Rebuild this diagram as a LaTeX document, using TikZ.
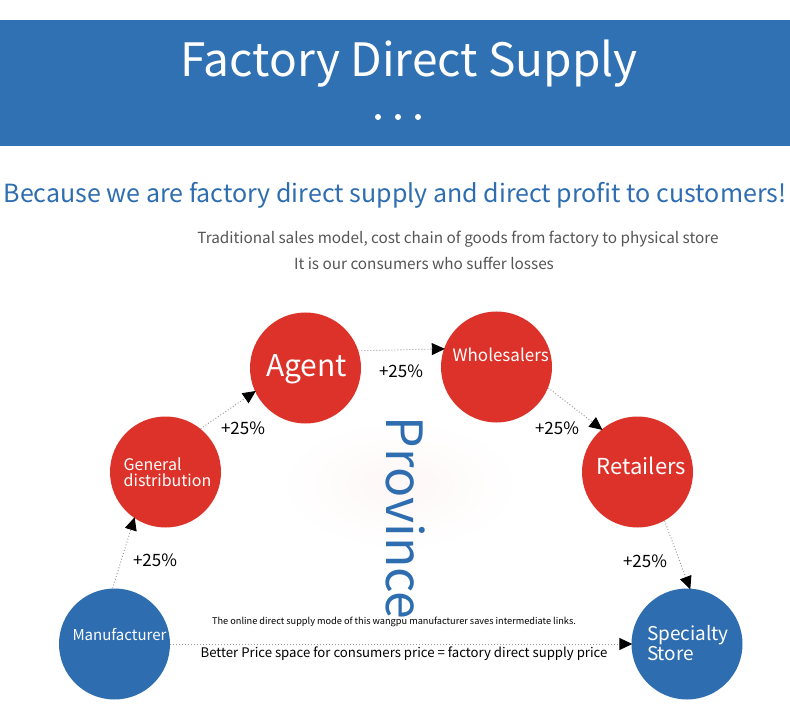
\documentclass[tikz,border=0pt]{standalone}
\usepackage{fontspec}
\setmainfont{Noto Sans CJK SC}
\usetikzlibrary{arrows.meta}
\providecommand{\Band}{2F71B2}
\providecommand{\Hot}{DC3229}
\providecommand{\Cool}{2E6DB0}
\providecommand{\Grey}{555555}
\newcommand{\Disc}{111pt}
\definecolor{band}{HTML}{\Band}
\definecolor{hot}{HTML}{\Hot}
\definecolor{cool}{HTML}{\Cool}
\definecolor{grey}{HTML}{\Grey}

\tikzset{
  disc/.style={circle, minimum size=\Disc, inner sep=0pt},
  hotdisc/.style={disc, fill=hot},
  cooldisc/.style={disc, fill=cool},
  disctext/.style={text=white, inner sep=0pt, align=left},
  flow/.style={draw=black!40, line width=0.9pt, dash pattern=on 1pt off 2pt,
    -{Triangle[black,length=13pt,width=12pt]}, shorten >=-1pt},
  pct/.style={font=\fontsize{17}{17}\selectfont, inner sep=0pt},
}

\begin{document}
\begin{tikzpicture}[x=1pt,y=-1pt]
  \useasboundingbox (0,0) rectangle (790,727);

  % ---- banner -------------------------------------------------------------
  \fill[band] (0,20) rectangle (790,146);
  \node[text=white, font=\fontsize{46}{46}\selectfont] (title) at (409,64) {Factory Direct Supply};
  \foreach \x in {378,398,418} {
    \fill[white] (\x,117) circle (3);
  }

  % ---- headline -----------------------------------------------------------
  \node[text=cool, font=\fontsize{25}{25}\selectfont] (head) at (395,195)
    {Because we are factory direct supply and direct profit to customers!};
  \node[text=grey, font=\fontsize{15.3}{15.3}\selectfont] (line1) at (458,239)
    {Traditional sales model, cost chain of goods from factory to physical store};
  \node[text=grey, font=\fontsize{15.3}{15.3}\selectfont] (line2) at (424,263)
    {It is our consumers who suffer losses};

  % ---- soft glow behind the province label --------------------------------
  \shade[inner color=hot!4, outer color=white, draw=none] (400,485) ellipse (120 and 65);

  % ---- the chain of hands -------------------------------------------------
  \node[cooldisc] (mfr)   at (114.5,644) {};
  \node[hotdisc]  (gen)   at (165.5,472) {};
  \node[hotdisc]  (agent) at (305.5,368) {};
  \node[hotdisc]  (whole) at (496.5,367) {};
  \node[hotdisc]  (retail) at (637.5,472) {};
  \node[cooldisc] (store) at (687,644) {};

  \node[disctext, font=\fontsize{15}{15}\selectfont] (mfr-t) at ([xshift=5,yshift=9]mfr.center) {Manufacturer};
  \node[disctext, font=\fontsize{16}{16}\selectfont] (gen-t) at ([xshift=2]gen.center) {General\\distribution};
  \node[disctext, font=\fontsize{30}{30}\selectfont] (agent-t) at ([xshift=1,yshift=-1]agent.center) {Agent};
  \node[disctext, font=\fontsize{17}{17}\selectfont] (whole-t) at ([xshift=-44,yshift=12]whole.center) [anchor=west] {Wholesalers};
  \node[disctext, font=\fontsize{22}{22}\selectfont] (retail-t) at ([xshift=4,yshift=6]retail.center) {Retailers};
  \node[disctext, font=\fontsize{19}{17}\selectfont] (store-t) at ([xshift=1,yshift=1]store.center) {Specialty\\Store};

  % ---- mark-ups along the way ---------------------------------------------
  \draw[flow] (mfr.92)    -- (gen.-124);
  \draw[flow] (gen.51)    -- (agent.205);
  \draw[flow] (agent.18)  -- (whole.161);
  \draw[flow] (whole.-22) -- (retail.130);
  \draw[flow] (retail.-61) -- (store.87);
  \foreach \n/\p in {up1/{155,560}, up2/{243,428}, up3/{401,371}, up4/{557,428}, up5/{645,561}} {
    \node[pct] (\n) at (\p) {+25\%};
  }

  % ---- the shortcut -------------------------------------------------------
  \draw[flow] (mfr.east) -- (store.west);
  \node[font=\fontsize{9.2}{9.2}\selectfont] (note) at (394,622)
    {The online direct supply mode of this wangpu manufacturer saves intermediate links.};
  \node[font=\fontsize{13.2}{13.2}\selectfont] (price) at (404,654)
    {Better Price space for consumers price = factory direct supply price};

  % ---- province, read downwards -------------------------------------------
  \node[text=cool, rotate=-90, font=\fontsize{50}{50}\selectfont] (prov) at (406,518) {Province};

\end{tikzpicture}
\end{document}
